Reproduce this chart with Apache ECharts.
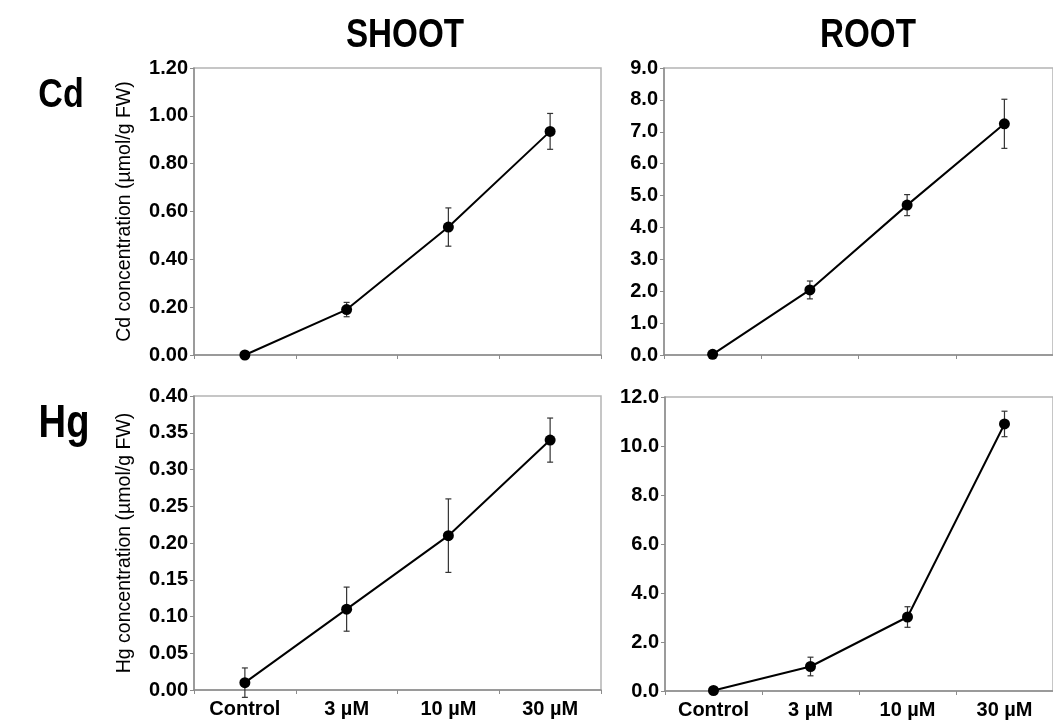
<!DOCTYPE html>
<html>
<head>
<meta charset="utf-8">
<title>Cd / Hg concentration</title>
<script src="https://cdn.jsdelivr.net/npm/echarts@6/dist/echarts.min.js"></script>
<style>
  html, body { margin: 0; padding: 0; background: #fff; }
  #chart { width: 1053px; height: 724px; }
</style>
</head>
<body>
<div id="chart"></div>
<script>
// categories along x
var categories = ['Control', '3 µM', '10 µM', '30 µM'];

// Cd, shoot / root (mean and error)
var cdShoot = [0.00, 0.19, 0.535, 0.935];
var cdShootErr = [0.00, 0.03, 0.08, 0.075];
var cdRoot = [0.02, 2.04, 4.70, 7.25];
var cdRootErr = [0.00, 0.28, 0.33, 0.77];

// Hg, shoot / root
var hgShoot = [0.01, 0.11, 0.21, 0.34];
var hgShootErr = [0.02, 0.03, 0.05, 0.03];
var hgRoot = [0.02, 1.00, 3.02, 10.90];
var hgRootErr = [0.00, 0.38, 0.42, 0.52];

// y axis ranges
var cdShootAxis = { min: 0, max: 1.2, interval: 0.2, digits: 2 };
var cdRootAxis = { min: 0, max: 9, interval: 1, digits: 1 };
var hgShootAxis = { min: 0, max: 0.4, interval: 0.05, digits: 2 };
var hgRootAxis = { min: 0, max: 12, interval: 2, digits: 1 };

var sans = "'Liberation Sans', Arial, sans-serif";

var grids = [
    { left: 194, top: 68, width: 407, height: 287 },
    { left: 664, top: 68, width: 402, height: 287 },
    { left: 194, top: 396, width: 407, height: 294 },
    { left: 665, top: 397, width: 401, height: 294 }
];

function xAxis(i, showLabel){
    return {
        type: 'category',
        gridIndex: i,
        data: categories,
        boundaryGap: true,
        axisLine: { lineStyle: { color: '#8c8c8c', width: 1.5 } },
        axisTick: { show: true, length: 4, lineStyle: { color: '#8c8c8c' } },
        axisLabel: {
            show: showLabel,
            interval: 0,
            margin: 9,
            color: '#000',
            fontFamily: sans,
            fontWeight: 'bold',
            fontSize: 20
        },
        splitLine: { show: false }
    };
}

function yAxis(i, ax, name){
    return {
        type: 'value',
        gridIndex: i,
        min: ax.min,
        max: ax.max,
        interval: ax.interval,
        name: name || '',
        nameLocation: 'middle',
        nameGap: 59,
        nameTextStyle: { color: '#000', fontFamily: sans, fontSize: 19.5 },
        axisLine: { show: true, lineStyle: { color: '#8c8c8c', width: 1.5 } },
        axisTick: { show: true, length: 4, lineStyle: { color: '#8c8c8c' } },
        axisLabel: {
            margin: 6,
            color: '#000',
            fontFamily: sans,
            fontWeight: 'bold',
            fontSize: 20,
            formatter: function(v){ return v.toFixed(ax.digits); }
        },
        splitLine: { show: false }
    };
}

// error bar data: [index, low, high]
function errData(vals, errs){
    var out = [];
    for (var i = 0; i < vals.length; i++) {
        out.push([i, vals[i] - errs[i], vals[i] + errs[i]]);
    }
    return out;
}

function renderErr(params, api){
    var x = api.value(0);
    var lo = api.coord([x, api.value(1)]);
    var hi = api.coord([x, api.value(2)]);
    var w = 3;
    var style = { stroke: '#333', lineWidth: 1.2 };
    return {
        type: 'group',
        children: [
            { type: 'line', shape: { x1: lo[0], y1: lo[1], x2: hi[0], y2: hi[1] }, style: style },
            { type: 'line', shape: { x1: hi[0] - w, y1: hi[1], x2: hi[0] + w, y2: hi[1] }, style: style },
            { type: 'line', shape: { x1: lo[0] - w, y1: lo[1], x2: lo[0] + w, y2: lo[1] }, style: style }
        ]
    };
}

function lineSeries(i, vals){
    return {
        type: 'line',
        xAxisIndex: i,
        yAxisIndex: i,
        data: vals,
        symbol: 'circle',
        symbolSize: 11,
        lineStyle: { color: '#000', width: 2 },
        itemStyle: { color: '#000' },
        z: 3,
        silent: true
    };
}

function errSeries(i, vals, errs){
    return {
        type: 'custom',
        xAxisIndex: i,
        yAxisIndex: i,
        data: errData(vals, errs),
        renderItem: renderErr,
        z: 2,
        silent: true
    };
}

// condensed bold heading, centred on (x, y)
function heading(text, x, y, size){
    return {
        type: 'text',
        x: x,
        y: y,
        scaleX: 0.83,
        style: {
            text: text,
            align: 'center',
            verticalAlign: 'middle',
            font: 'bold ' + size + 'px ' + sans,
            fill: '#000'
        }
    };
}

var myChart = echarts.init(document.getElementById('chart'), null, { renderer: 'canvas' });

var option = {
    backgroundColor: '#fff',
    animation: false,
    grid: grids.map(function(g){
        return {
            left: g.left, top: g.top, width: g.width, height: g.height,
            show: true, borderColor: '#b4b4b4', borderWidth: 1.5, backgroundColor: '#fff'
        };
    }),
    xAxis: [xAxis(0, false), xAxis(1, false), xAxis(2, true), xAxis(3, true)],
    yAxis: [
        yAxis(0, cdShootAxis, 'Cd concentration (µmol/g FW)'),
        yAxis(1, cdRootAxis),
        yAxis(2, hgShootAxis, 'Hg concentration (µmol/g FW)'),
        yAxis(3, hgRootAxis)
    ],
    series: [
        errSeries(0, cdShoot, cdShootErr), lineSeries(0, cdShoot),
        errSeries(1, cdRoot, cdRootErr), lineSeries(1, cdRoot),
        errSeries(2, hgShoot, hgShootErr), lineSeries(2, hgShoot),
        errSeries(3, hgRoot, hgRootErr), lineSeries(3, hgRoot)
    ],
    graphic: [
        heading('SHOOT', 405, 36, 40),
        heading('ROOT', 868, 36, 40),
        heading('Cd', 61, 96, 41),
        heading('Hg', 64, 424, 46)
    ]
};

myChart.setOption(option);
</script>
</body>
</html>
